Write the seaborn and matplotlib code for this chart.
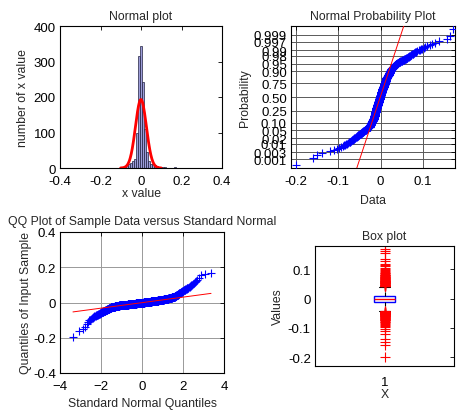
import numpy as np
import pandas as pd
import matplotlib
matplotlib.use("Agg")
import matplotlib.pyplot as plt
import seaborn as sns
from statistics import NormalDist

# ---- data ----
# histogram of the sample: 38 equal bins between bin_lo and bin_hi
bin_lo, bin_hi = -0.2033, 0.1718
counts = [1, 0, 0, 0, 1, 1, 1, 0, 1, 1,
          2, 3, 4, 8, 10, 15, 20, 25, 98, 315,
          344, 242, 110, 44, 20, 11, 11, 9, 7, 4,
          3, 2, 2, 1, 1, 0, 1, 2]

hist_xticks = [-0.4, -0.2, 0, 0.2, 0.4]
hist_xlabels = ["-0.4", "-0.2", "0", "0.2", "0.4"]
hist_yticks = [0, 100, 200, 300, 400]

prob_ticks = [0.001, 0.003, 0.01, 0.02, 0.05, 0.10, 0.25, 0.50,
              0.75, 0.90, 0.95, 0.98, 0.99, 0.997, 0.999]
prob_labels = ["0.001", "0.003", "0.01", "0.02", "0.05", "0.10", "0.25", "0.50",
               "0.75", "0.90", "0.95", "0.98", "0.99", "0.997", "0.999"]
prob_xticks = [-0.2, -0.1, 0, 0.1]
prob_xlabels = ["-0.2", "-0.1", "0", "0.1"]

qq_xticks = [-4, -2, 0, 2, 4]
qq_yticks = [-0.4, -0.2, 0, 0.2, 0.4]
qq_ylabels = ["-0.4", "-0.2", "0", "0.2", "0.4"]

box_yticks = [-0.2, -0.1, 0, 0.1]
box_ylabels = ["-0.2", "-0.1", "0", "0.1"]

# ---- sample rebuilt from the histogram counts ----
edges = np.linspace(bin_lo, bin_hi, len(counts) + 1)
w = edges[1] - edges[0]
centers = (edges[:-1] + edges[1:]) / 2
sample = np.concatenate([edges[k] + (np.arange(c) + 0.5) / c * w
                         for k, c in enumerate(counts) if c > 0])
n = len(sample)
nd = NormalDist()
zq = np.array([nd.inv_cdf((i - 0.5) / n) for i in range(1, n + 1)])
q1, q3 = np.percentile(sample, [25, 75])
ref_m = (q1 + q3) / 2
ref_s = (q3 - q1) / (2 * nd.inv_cdf(0.75))
hist_df = pd.DataFrame({"x": centers, "count": counts})

sns.set_style("white")
plt.rcParams["font.family"] = ["Liberation Sans", "DejaVu Sans"]
plt.rcParams["axes.linewidth"] = 0.8
plt.rcParams["axes.edgecolor"] = "black"
TICK_FS, LAB_FS = 9.5, 8.8

fig = plt.figure(figsize=(4.57, 4.14), dpi=100)
W, H = 457, 414
def box(l, t, r, b):
    return fig.add_axes([l / W, 1 - b / H, (r - l) / W, (b - t) / H])

ax1 = box(60, 27, 222, 169)
ax2 = box(291, 27, 455, 169)
ax3 = box(60, 233, 224, 374)
ax4 = box(315, 247, 454, 367)

for ax in (ax1, ax2, ax3, ax4):
    ax.tick_params(direction="in", top=True, right=True, length=3, width=0.6,
                   labelsize=TICK_FS, colors="black", pad=3)
    ax.tick_params(axis="x", pad=5)
    for sp in ax.spines.values():
        sp.set_visible(True)
        sp.set_color("black")

# ---- 1. histogram + normal fit ----
sns.histplot(data=hist_df, x="x", weights="count", bins=len(counts),
             binrange=(bin_lo, bin_hi), ax=ax1, color="#9c9cd8",
             edgecolor="#202040", linewidth=0.5, alpha=1)
mu, sd = sample.mean(), sample.std(ddof=1)
xf = np.linspace(mu - 3.72 * sd, mu + 3.72 * sd, 200)
yf = n * w * np.array([NormalDist(mu, sd).pdf(v) for v in xf])
sns.lineplot(x=xf, y=yf, color="red", linewidth=2, ax=ax1)
ax1.set_xlim(-0.4, 0.4)
ax1.set_ylim(0, 400)
ax1.set_xticks(hist_xticks)
ax1.set_xticklabels(hist_xlabels)
ax1.set_yticks(hist_yticks)
ax1.set_title("Normal plot", fontsize=LAB_FS, pad=5)
ax1.set_xlabel("x value", fontsize=LAB_FS, labelpad=0)
ax1.set_ylabel("number of x value", fontsize=LAB_FS, labelpad=3)

# ---- 2. normal probability plot ----
ax2.set_axisbelow(True)
ax2.grid(True, color="0.35", linewidth=0.7)
sns.scatterplot(x=sample, y=zq, marker="+", color="blue", s=36, linewidth=0.8,
                ax=ax2, zorder=3)
xl = np.array([-0.211, 0.175])
sns.lineplot(x=xl, y=(xl - ref_m) / ref_s, color="red", linewidth=0.7, ax=ax2, zorder=4)
pad = 0.025 * (zq[-1] - zq[0])
ax2.set_xlim(xl[0], xl[1])
ax2.set_ylim(zq[0] - pad, zq[-1] + pad)
ax2.set_yticks([nd.inv_cdf(p) for p in prob_ticks])
ax2.set_yticklabels(prob_labels)
ax2.set_xticks(prob_xticks)
ax2.set_xticklabels(prob_xlabels)
ax2.set_title("Normal Probability Plot", fontsize=LAB_FS, pad=5)
ax2.set_xlabel("Data", fontsize=LAB_FS, labelpad=5)
ax2.set_ylabel("Probability", fontsize=LAB_FS, labelpad=2)

# ---- 3. QQ plot ----
ax3.set_axisbelow(True)
ax3.grid(True, color="0.6", linewidth=0.7)
sns.scatterplot(x=zq, y=sample, marker="+", color="blue", s=36, linewidth=0.8,
                ax=ax3, zorder=3)
zl = np.array([zq[0], zq[-1]])
sns.lineplot(x=zl, y=ref_m + ref_s * zl, color="red", linewidth=0.7, ax=ax3, zorder=4)
ax3.set_xlim(-4, 4)
ax3.set_ylim(-0.4, 0.4)
ax3.set_xticks(qq_xticks)
ax3.set_yticks(qq_yticks)
ax3.set_yticklabels(qq_ylabels)
ax3.set_title("QQ Plot of Sample Data versus Standard Normal", fontsize=LAB_FS, pad=6)
ax3.set_xlabel("Standard Normal Quantiles", fontsize=LAB_FS, labelpad=4)
ax3.set_ylabel("Quantiles of Input Sample", fontsize=LAB_FS, labelpad=1)

# ---- 4. box plot ----
sns.boxplot(y=sample, ax=ax4, width=0.156, whis=1.5, color="white",
            linecolor="blue", linewidth=1,
            medianprops=dict(color="red", linewidth=1),
            whiskerprops=dict(color="black", linestyle="--", linewidth=0.8),
            capprops=dict(color="black", linewidth=0.8),
            flierprops=dict(marker="+", markeredgecolor="red", markerfacecolor="red",
                            markersize=7, markeredgewidth=0.8))
ax4.set_xlim(-0.5, 0.5)
ax4.set_ylim(-0.23, 0.18)
ax4.set_xticks([0])
ax4.set_xticklabels(["1"])
ax4.tick_params(axis="x", pad=7)
ax4.set_yticks(box_yticks)
ax4.set_yticklabels(box_ylabels)
ax4.set_title("Box plot", fontsize=LAB_FS, pad=5)
ax4.set_xlabel("X", fontsize=LAB_FS, labelpad=0)
ax4.set_ylabel("Values", fontsize=LAB_FS, labelpad=3)

fig.savefig("out.png", dpi=100)
